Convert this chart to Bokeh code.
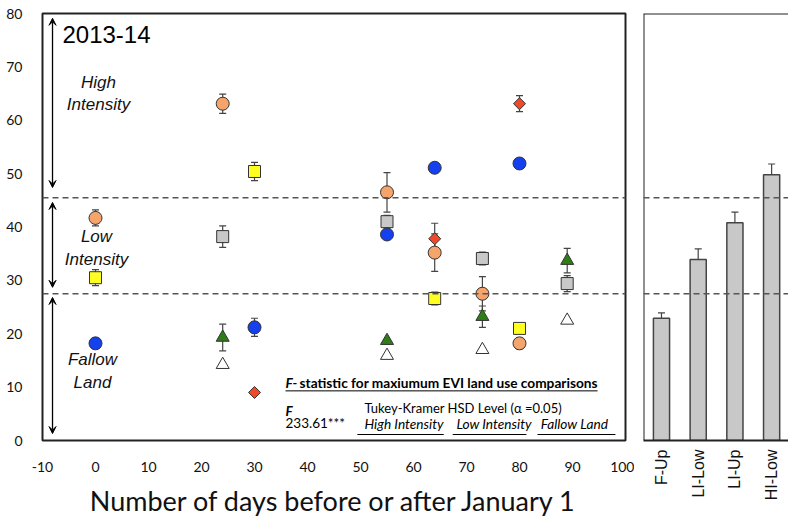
import math
from bokeh.plotting import figure
from bokeh.layouts import row
from bokeh.models import (ColumnDataSource, Whisker, TeeHead, Span, Label, Arrow,
                          VeeHead, FixedTicker, Range1d)
from bokeh.embed import file_html
from bokeh.resources import INLINE

# ---------------- data ----------------
x_ticks = [-10, 0, 10, 20, 30, 40, 50, 60, 70, 80, 90, 100]
y_ticks = [0, 10, 20, 30, 40, 50, 60, 70, 80]

orange_days = [0, 24, 55, 64, 73, 80]
orange_evi = [41.7, 63.1, 46.5, 35.2, 27.5, 18.2]
orange_err = [1.5, 1.8, 3.7, 3.5, 3.2, 1.0]

yellow_days = [0, 30, 64, 80]
yellow_evi = [30.5, 50.4, 26.6, 21.0]
yellow_err = [1.5, 1.7, 1.2, 0.0]

gray_days = [24, 55, 73, 89]
gray_evi = [38.2, 41.0, 34.1, 29.4]
gray_err = [2.0, 1.2, 1.2, 1.5]

blue_days = [0, 30, 55, 64, 80]
blue_evi = [18.2, 21.2, 38.6, 51.1, 51.9]
blue_err = [0.0, 1.7, 0.0, 0.0, 0.0]

red_days = [30, 64, 80]
red_evi = [9.0, 37.8, 63.1]
red_err = [0.0, 2.9, 1.5]

green_days = [24, 55, 73, 89]
green_evi = [19.3, 18.7, 23.2, 33.7]
green_err = [2.5, 0.0, 2.0, 2.3]

white_days = [24, 55, 73, 89]
white_evi = [14.2, 15.9, 17.0, 22.5]
white_err = [0.0, 0.0, 0.0, 0.0]

bar_categories = ["F-Up", "LI-Low", "LI-Up", "HI-Low"]
bar_values = [22.9, 33.9, 40.8, 49.8]
bar_errors = [1.0, 2.0, 2.0, 2.0]

thresholds = [27.5, 45.5]

# ---------------- styles ----------------
series = [
    (gray_days, gray_evi, gray_err, "square", 12, "#C8C8C8", 0),
    (orange_days, orange_evi, orange_err, "circle", 13, "#F5A46B", 0),
    (yellow_days, yellow_evi, yellow_err, "square", 12, "#FFFF22", 0),
    (blue_days, blue_evi, blue_err, "circle", 13, "#1440F0", 0),
    (red_days, red_evi, red_err, "square", 8.5, "#EE4A2A", math.pi / 4),
    (green_days, green_evi, green_err, "triangle", 13, "#2F7D16", 0),
    (white_days, white_evi, white_err, "triangle", 13, "#FFFFFF", 0),
]

CAL = "Lato"
ARIAL = "Liberation Sans"

# ---------------- left figure ----------------
p = figure(width=634, height=519, x_range=Range1d(-10, 100), y_range=Range1d(0, 80),
           output_backend="svg", toolbar_location=None,
           min_border_left=42, min_border_right=9, min_border_top=13, min_border_bottom=79)
p.background_fill_color = "white"
p.border_fill_color = "white"
p.outline_line_color = "#222222"
p.outline_line_width = 2
p.grid.visible = False

p.xaxis.ticker = FixedTicker(ticks=x_ticks)
p.xaxis.major_label_overrides = {t: str(t) for t in x_ticks}
p.yaxis.ticker = FixedTicker(ticks=y_ticks)
for ax in (p.xaxis, p.yaxis):
    ax.axis_line_color = None
    ax.major_tick_line_color = None
    ax.minor_tick_line_color = None
    ax.major_label_text_font = CAL
    ax.major_label_text_font_size = "14px"
    ax.major_label_text_color = "#111111"
p.xaxis.major_label_standoff = 15
p.yaxis.major_label_standoff = 14
p.xaxis.axis_label = "Number of days before or after January 1"
p.xaxis.axis_label_text_font = CAL
p.xaxis.axis_label_text_font_size = "27px"
p.xaxis.axis_label_text_font_style = "normal"
p.xaxis.axis_label_text_color = "#111111"
p.xaxis.axis_label_standoff = 9

for t in thresholds:
    p.add_layout(Span(location=t, dimension="width", line_color="#555555",
                      line_dash="6 4", line_width=1.5))

for days, evi, err, marker, size, color, angle in series:
    with_err = [(d, v, e) for d, v, e in zip(days, evi, err) if e > 0]
    if with_err:
        src = ColumnDataSource(dict(x=[w[0] for w in with_err],
                                    lower=[w[1] - w[2] for w in with_err],
                                    upper=[w[1] + w[2] for w in with_err]))
        p.add_layout(Whisker(base="x", lower="lower", upper="upper", source=src,
                             line_color="#444444", line_width=1.2, level="underlay",
                             upper_head=TeeHead(size=7, line_color="#444444", line_width=1.2),
                             lower_head=TeeHead(size=7, line_color="#444444", line_width=1.2)))
    p.scatter(x=days, y=evi, marker=marker, size=size, angle=angle,
              fill_color=color, line_color="#333333", line_width=1)

# double arrows
for y0, y1 in [(79.1, 47.4), (44.6, 28.7), (26.8, 1.3)]:
    p.add_layout(Arrow(x_start=-8.11, y_start=y0, x_end=-8.11, y_end=y1,
                       line_color="black", line_width=1.3,
                       start=VeeHead(size=7, fill_color="black", line_color="black"),
                       end=VeeHead(size=7, fill_color="black", line_color="black")))

p.add_layout(Label(x=-6.23, y=76.07, text="2013-14", text_font=ARIAL, text_font_size="24px",
                   text_baseline="middle", text_align="left", text_color="black"))
for txt, xx, yy in [("High", 0.57, 67.07), ("Intensity", 0.57, 62.95),
                    ("Low", 0.19, 38.2), ("Intensity", 0.19, 33.9),
                    ("Fallow", -0.57, 15.2), ("Land", -0.57, 10.9)]:
    p.add_layout(Label(x=xx, y=yy, text=txt, text_font=ARIAL, text_font_size="17px",
                       text_font_style="italic", text_align="center",
                       text_baseline="middle", text_color="#111111"))

# statistics block
p.add_layout(Label(x=35.85, y=10.87, text="F-", text_font=CAL, text_font_size="13.7px",
                   text_font_style="bold italic", text_baseline="middle", text_color="black"))
p.add_layout(Label(x=38.5, y=10.87, text=" statistic for maxiumum EVI land use comparisons",
                   text_font=CAL, text_font_size="13.7px", text_font_style="bold",
                   text_baseline="middle", text_color="black"))
p.segment(x0=[35.85], y0=[9.3], x1=[94.73], y1=[9.3], line_color="black", line_width=1)
p.add_layout(Label(x=35.85, y=5.62, text="F", text_font=CAL, text_font_size="13.5px",
                   text_font_style="bold italic", text_baseline="middle", text_color="black"))
p.add_layout(Label(x=35.85, y=3.37, text="233.61***", text_font=CAL, text_font_size="13.5px",
                   text_baseline="middle", text_color="black"))
p.add_layout(Label(x=50.75, y=6.0, text="Tukey-Kramer HSD Level (α =0.05)", text_font=CAL,
                   text_font_size="13px", text_baseline="middle", text_color="black"))
for txt, xx in [("High Intensity", 50.75), ("Low Intensity", 68.1), ("Fallow Land", 84.0)]:
    p.add_layout(Label(x=xx, y=3.19, text=txt, text_font=CAL, text_font_size="13.7px",
                       text_font_style="italic", text_baseline="middle", text_color="black"))
p.segment(x0=[49.4, 67.4, 83.4], y0=[1.12] * 3, x1=[65.7, 81.3, 98.1], y1=[1.12] * 3,
          line_color="black", line_width=1.2)

# ---------------- right figure ----------------
idx = list(range(len(bar_categories)))
q = figure(width=154, height=519, x_range=Range1d(-0.49, 3.46), y_range=Range1d(0, 80),
           output_backend="svg", toolbar_location=None,
           min_border_left=9, min_border_right=0, min_border_top=13, min_border_bottom=79)
q.outline_line_color = None
q.grid.visible = False
q.yaxis.visible = False
q.xaxis.ticker = FixedTicker(ticks=idx)
q.xaxis.major_label_overrides = {i: c for i, c in zip(idx, bar_categories)}
q.xaxis.major_label_orientation = math.pi / 2
q.xaxis.major_label_text_font = ARIAL
q.xaxis.major_label_text_font_size = "16px"
q.xaxis.major_label_text_color = "#111111"
q.xaxis.major_label_standoff = 3
q.xaxis.major_tick_line_color = None
q.xaxis.minor_tick_line_color = None
q.xaxis.axis_line_color = "#222222"
q.xaxis.axis_line_width = 2
q.add_layout(Span(location=80, dimension="width", line_color="#222222", line_width=2))
q.add_layout(Span(location=-0.49, dimension="height", line_color="#222222", line_width=2))

for t in thresholds:
    q.add_layout(Span(location=t, dimension="width", line_color="#555555",
                      line_dash="6 4", line_width=1.5))

q.vbar(x=idx, top=bar_values, width=0.44, fill_color="#C8C8C8", line_color="#444444",
       line_width=1.5)
bsrc = ColumnDataSource(dict(x=idx, lower=[v - e for v, e in zip(bar_values, bar_errors)],
                             upper=[v + e for v, e in zip(bar_values, bar_errors)]))
q.add_layout(Whisker(base="x", lower="lower", upper="upper", source=bsrc,
                     line_color="#444444", line_width=1.2,
                     upper_head=TeeHead(size=7, line_color="#444444", line_width=1.2),
                     lower_head=TeeHead(size=7, line_color="#444444", line_width=1.2)))

layout = row(p, q)
open("out.html", "w").write(file_html(layout, INLINE))
